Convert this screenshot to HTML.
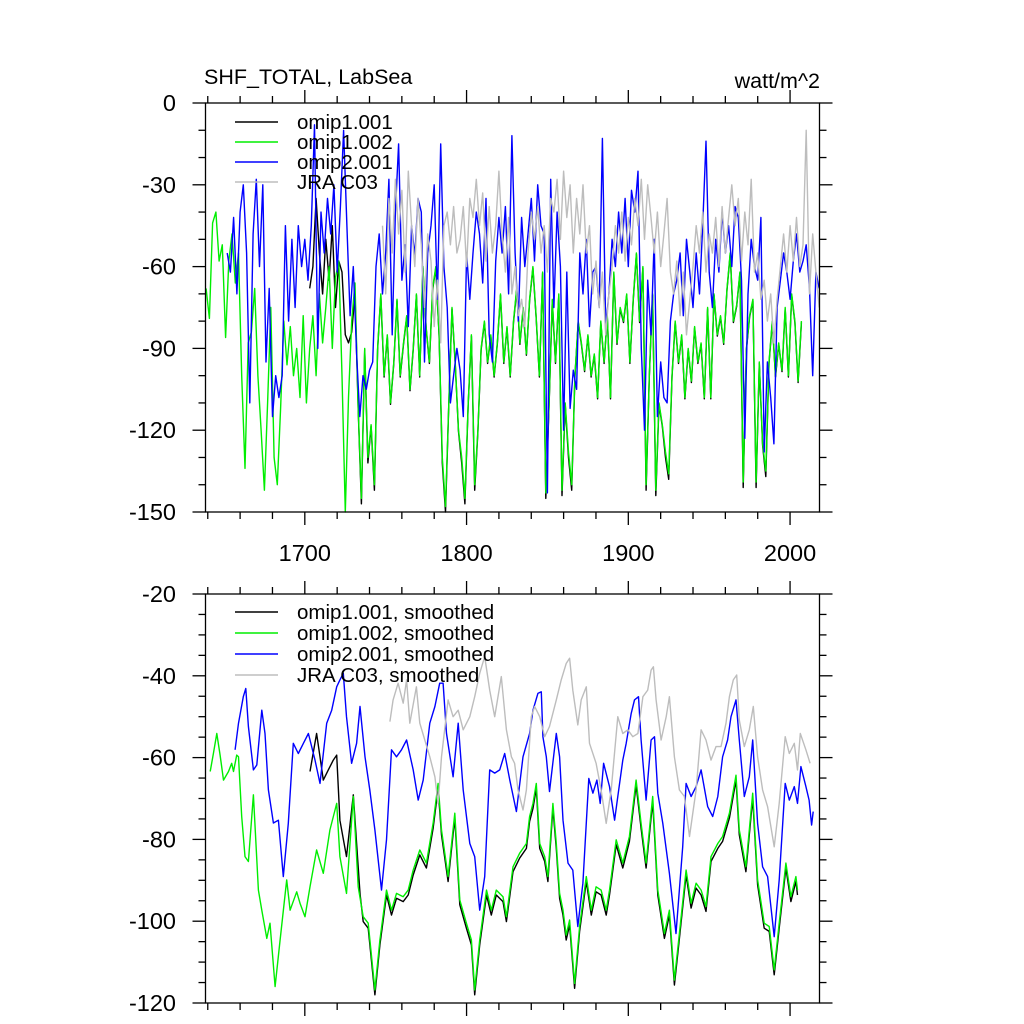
<!DOCTYPE html>
<html><head><meta charset="utf-8"><style>
html,body{margin:0;padding:0;background:#fff}
svg{display:block}
text{font-family:"Liberation Sans",sans-serif;fill:#000}
</style></head><body>
<svg id="chart" width="1024" height="1024" viewBox="0 0 1024 1024" xmlns="http://www.w3.org/2000/svg">
<text x="204" y="84" font-size="21.5">SHF_TOTAL, LabSea</text>
<text x="820" y="88" font-size="21.5" text-anchor="end">watt/m^2</text>
</svg>
<script>
// ---- top panel data (annual means, 2-yr sampling) ----
const greenStart = 1639;
const greenVals = [-68,-79,-44,-40,-58,-52,-86,-58,-48,-66,-55,-100,-134,-88,-84,-68,-100,-120,-142,-110,-75,-130,-140,-112,-80,-96,-82,-100,-90,-108,-78,-110,-90,-78,-100,-70,-88,-75,-60,-90,-64,-58,-100,-150,-108,-80,-66,-112,-145,-90,-130,-118,-140,-90,-70,-100,-85,-110,-95,-72,-100,-88,-78,-105,-90,-70,-100,-60,-82,-95,-68,-60,-85,-130,-148,-110,-75,-95,-120,-130,-145,-110,-85,-140,-120,-90,-80,-95,-85,-100,-88,-70,-95,-82,-100,-80,-68,-88,-75,-92,-72,-60,-78,-100,-62,-143,-110,-72,-95,-70,-142,-110,-128,-140,-100,-80,-88,-98,-85,-100,-92,-108,-80,-95,-78,-108,-62,-88,-75,-80,-70,-95,-72,-55,-80,-60,-140,-100,-70,-142,-110,-118,-128,-136,-100,-80,-95,-85,-108,-90,-102,-82,-95,-88,-108,-75,-108,-70,-85,-78,-88,-68,-55,-80,-74,-62,-139,-90,-78,-72,-139,-95,-125,-135,-95,-80,-100,-88,-98,-75,-100,-70,-80,-102,-80];
const blackStart = 1703;
const blackEarlyVals = [-68,-60,-35,-55,-70,-50,-65,-45,-75,-58,-62,-85,-88,-84,-70];
const blueStart = 1652;
const blueVals = [-55,-62,-42,-70,-40,-30,-55,-110,-48,-28,-60,-30,-95,-68,-115,-100,-108,-100,-45,-80,-50,-75,-45,-60,-50,-65,-45,-8,-90,-40,-55,-35,-48,-30,-62,-38,-10,-45,-78,-60,-92,-115,-100,-105,-98,-95,-60,-48,-70,-55,-28,-85,-40,-15,-65,-52,-82,-45,-56,-35,-40,-95,-55,-45,-30,-72,-15,-60,-75,-110,-100,-90,-98,-115,-55,-72,-55,-40,-48,-66,-35,-85,-95,-58,-42,-55,-38,-70,-12,-55,-80,-42,-60,-48,-35,-58,-30,-45,-48,-143,-28,-75,-40,-60,-120,-62,-112,-98,-105,-55,-70,-50,-82,-62,-60,-75,-13,-82,-70,-50,-60,-40,-55,-35,-60,-32,-40,-25,-90,-120,-65,-85,-50,-115,-95,-108,-110,-80,-70,-65,-55,-78,-50,-62,-75,-55,-70,-45,-14,-62,-75,-50,-62,-40,-55,-45,-60,-38,-42,-65,-123,-70,-50,-60,-65,-42,-128,-95,-108,-125,-75,-65,-55,-62,-72,-58,-48,-62,-58,-52,-68,-100,-62,-68];
const grayStart = 1748;
const grayVals = [-45,-70,-35,-55,-28,-48,-32,-62,-25,-45,-60,-35,-52,-75,-48,-58,-82,-65,-88,-45,-40,-52,-38,-55,-50,-38,-60,-35,-42,-28,-45,-33,-58,-38,-55,-45,-25,-48,-62,-42,-70,-60,-78,-72,-82,-55,-40,-50,-38,-55,-45,-62,-35,-40,-28,-50,-25,-42,-30,-55,-35,-48,-30,-55,-45,-70,-58,-75,-62,-85,-70,-60,-45,-55,-40,-58,-42,-52,-35,-45,-28,-50,-30,-42,-55,-40,-60,-48,-35,-62,-70,-58,-78,-62,-85,-72,-60,-45,-55,-40,-62,-48,-55,-42,-60,-38,-55,-42,-30,-45,-35,-58,-40,-52,-28,-62,-55,-72,-65,-80,-70,-88,-72,-60,-48,-62,-45,-58,-42,-60,-52,-10,-70,-48,-62,-75];
const yearStep = 2;

// ---- bottom panel data (smoothed) ----
const gsYears = [1641.5,1643.5,1645.6,1647.6,1649.7,1652.8,1654.8,1655.9,1657.9,1659,1661,1663,1665.1,1668.2,1671.3,1673.4,1676.5,1678.5,1681.6,1684.7,1688.8,1690.9,1695,1697,1700.1,1703.2,1707.3,1711.4,1715.5,1719.7,1721.7,1725.8,1730,1733,1736.1,1739.2,1743.3,1746.4,1750.5,1753.6,1756.7,1760.8,1763.9,1767,1771.1,1775.2,1779.3,1782.4,1784.5,1788.6,1792.7,1795.8,1799.9,1803,1805,1808.1,1812.3,1815.3,1818.4,1822.5,1824.6,1828.7,1832.8,1837,1839,1841.1,1843.1,1845.2,1848.3,1850.3,1853.4,1855.5,1857.5,1859.6,1861.6,1863.7,1866.8,1869.9,1874,1877.1,1880.1,1883.2,1886.3,1888.4,1892.5,1896.6,1900.7,1904.8,1907.9,1911,1915.1,1918.2,1922.3,1925.4,1928.5,1931.6,1935.7,1938.8,1941.9,1945,1948,1951.1,1955.3,1958.3,1962.5,1966.6,1968.6,1972.7,1976.9,1979.9,1984,1987.1,1990.2,1993.3,1997.4,2000.5,2003.6,2004.6];
const gsVals = [-63.4,-59,-54.1,-59.4,-65.5,-63.4,-61.4,-63.4,-59.4,-59.8,-74.4,-84.2,-85.4,-69.1,-92.4,-97.3,-104.2,-100.5,-116,-104.6,-89.9,-97.3,-92.8,-95.6,-98.9,-91.6,-82.6,-88.3,-77.7,-71.2,-84.2,-93.2,-69.5,-91.6,-98.9,-100.5,-116.8,-104.6,-92.4,-97.3,-93.2,-94,-92.4,-87.5,-82.6,-85.8,-76.1,-66.3,-77.7,-89.1,-73.6,-94.8,-100.5,-104.6,-116.8,-104.6,-92.4,-97.3,-92.4,-94,-98.9,-86.7,-83.4,-81,-74.4,-71.2,-66.3,-81,-84.2,-89.1,-71.2,-81,-93.2,-97.3,-103.4,-99.7,-115.2,-101.3,-89.1,-97.3,-91.6,-92.4,-97.3,-92.4,-80.1,-85.8,-79.3,-65.5,-76.1,-85.8,-69.5,-92.4,-103,-97.3,-114.4,-103,-87.5,-95.6,-90.7,-92.4,-96.4,-84.2,-81,-79.3,-73.6,-64.3,-77.7,-86.7,-68.7,-89.9,-100.5,-101.3,-111.9,-100.5,-85.8,-94,-89.1,-92.4];
const ksYears = [1703.2,1707.3,1709.4,1711.4,1714.5,1717.6,1719.7,1721.7,1725.8,1730,1734.1];
const ksVals = [-63.4,-54.1,-59.8,-65.5,-63,-60.6,-59.4,-75.3,-84.2,-69.1,-93.2];
const bsYears = [1656.9,1659,1662,1663.5,1665.1,1668.2,1670.3,1673.4,1675.4,1677.5,1680.6,1683.7,1686.7,1689.8,1692.9,1696,1699.1,1702.2,1706.3,1709.4,1713.5,1716.6,1719.7,1721.7,1723.8,1725.8,1728.9,1732,1734.1,1737.2,1740.2,1743.3,1747.4,1750.5,1753.6,1756.7,1759.8,1762.9,1767,1770.1,1773.2,1777.3,1780.4,1783.4,1785.5,1787.6,1791.7,1794.8,1797.9,1802,1805,1808.1,1811.2,1814.3,1817.4,1820.5,1823.6,1826.7,1830.8,1834.9,1839,1841.1,1844.1,1846.2,1847.2,1849.3,1851.3,1855.5,1857.5,1859.6,1862.7,1865.7,1868.8,1871.9,1875.6,1878.1,1880.6,1882.6,1884.7,1888.4,1891.5,1893.5,1896.6,1898.7,1901.8,1903.8,1906.3,1907.9,1911,1914.1,1916.2,1918.2,1921.3,1925.4,1929.5,1933.6,1935.7,1938.8,1941.9,1945,1949.1,1952.2,1955.3,1958.3,1961.4,1963.5,1966.6,1968.6,1971.7,1974.8,1976.9,1979.9,1983,1986.1,1990.2,1993.3,1997,1999.5,2002.6,2004.6,2006.7,2009.8,2011.8,2013.3,2014.3];
const bsVals = [-58.1,-51.6,-45.1,-43.1,-52.4,-63,-61.8,-48.4,-54.1,-67.9,-76,-75.3,-89.1,-76.1,-56.5,-59,-56.5,-54.1,-60.6,-66.3,-51.6,-48.4,-42.7,-41,-39.4,-50,-61.4,-56.5,-47.5,-59.8,-67.9,-77.7,-92.4,-80.1,-58.1,-59.8,-58.1,-55.7,-63,-70.4,-65.5,-51.6,-47.5,-41.8,-41.8,-54.1,-64.7,-51.6,-67.9,-81,-84.2,-97.3,-89.1,-63,-63.8,-63,-59,-65.5,-73.2,-59.8,-54.1,-48.4,-44.3,-43.9,-54.9,-59.8,-68.3,-54.1,-59.8,-75.3,-85.8,-87.5,-101.3,-90.7,-65.1,-68.7,-65.5,-71.2,-61.4,-67.1,-75.3,-69.5,-60.6,-56.5,-49.2,-45.9,-45.1,-55.7,-70.4,-55.7,-54.9,-68.7,-76.1,-88.3,-103,-81.8,-66.3,-69.5,-67.1,-63,-72,-74.4,-69.5,-59.8,-55.7,-50,-45.9,-55.7,-69.5,-64.7,-55.7,-76.1,-86.7,-89.1,-103.8,-89.9,-66.3,-70.4,-67.1,-71.2,-62.2,-67.1,-70.4,-76.5,-73.2];
const jsYears = [1752.6,1754.6,1757.7,1760.8,1762.9,1764.9,1769,1771.1,1774.2,1777.3,1780.4,1782.4,1784.5,1788.6,1791.7,1794.8,1797.9,1802,1805,1808.1,1811.2,1814.3,1817.4,1821.5,1824.6,1827.7,1829.7,1831.8,1834.9,1837,1840,1842.1,1845.2,1848.3,1851.3,1855.5,1858.5,1861.6,1863.7,1865.7,1868.8,1870.9,1874,1876,1880.1,1883.2,1886.3,1889.4,1893.5,1896.6,1899.7,1902.8,1905.9,1909,1912,1914.1,1915.5,1917.2,1920.3,1923.4,1925.4,1928.5,1931.6,1934.7,1937.8,1941.9,1945,1948,1951.1,1954.2,1957.3,1960.4,1962.5,1964.9,1967,1968.6,1971.7,1974.8,1977.3,1979.9,1983,1986.1,1990.2,1993.3,1997,1999.5,2002.6,2004.6,2006.3,2009.8,2012.4];
const jsVals = [-51.2,-45.9,-41.8,-46.7,-41,-51.6,-42.7,-51.6,-55.7,-59.8,-64.7,-71.2,-59.8,-45.9,-50,-48.4,-53.2,-50,-45.1,-39.4,-35.3,-43.5,-50,-40.2,-53.2,-59.8,-61.4,-67.9,-72.8,-67.9,-50,-47.5,-50,-54.9,-52.4,-45.9,-41,-37,-35.7,-43.5,-52,-45.9,-42.7,-56.5,-61.4,-67.9,-76.1,-67.9,-50,-54.1,-53.2,-54.9,-54.1,-45.1,-43.5,-38.6,-37.8,-45.9,-55.7,-50,-45.1,-59.8,-67.9,-69.5,-79.3,-67.9,-53.2,-55.7,-60.6,-57.3,-57.3,-51.6,-45.1,-41,-39.8,-50.8,-57.3,-53.2,-47.5,-59.8,-67.9,-72,-81.8,-71.2,-54.9,-59,-56.5,-63,-54.1,-58.1,-61.4];

const topTicks = [0,-30,-60,-90,-120,-150];
const botTicks = [-20,-40,-60,-80,-100,-120];
const xTicks = [1700,1800,1900,2000];

const NS = "http://www.w3.org/2000/svg";
const svg = document.getElementById('chart');
const X0 = 205.5, X1 = 819.5, XMIN = 1638.6, XMAX = 2018.2;
function xs(y){ return X0 + (y - XMIN) / (XMAX - XMIN) * (X1 - X0); }
function mk(tag, attrs, parent){ const e = document.createElementNS(NS, tag); for (const k in attrs) e.setAttribute(k, attrs[k]); (parent||svg).appendChild(e); return e; }

function panel(name, top, bot, vmax, vmin, ticks, minorStep, showXLabels){
  const g = mk('g', {});
  
  
  const ys = v => top + (vmax - v) / (vmax - vmin) * (bot - top);
  return {g, ys, top, bot, vmax, vmin, ticks, minorStep, showXLabels};
}
function drawAxes(p){
  const ax = mk('g', {stroke:'#000','stroke-width':1.3, fill:'none'}, p.g);
  
  
  mk('rect', {x:X0, y:p.top, width:X1-X0, height:p.bot-p.top}, ax);
  for (let v = p.vmax; v >= p.vmin - 0.001; v -= p.minorStep){
    const isMaj = p.ticks.some(t => Math.abs(t - v) < 0.001);
    const y = p.ys(v), L = isMaj ? 13 : 7;
    mk('line', {x1:X0, x2:X0-L, y1:y, y2:y}, ax);
    mk('line', {x1:X1, x2:X1+L, y1:y, y2:y}, ax);
  }
  for (let yr = 1640; yr <= 2018; yr += 20){
    const isMaj = yr % 100 === 0;
    const x = xs(yr), L = isMaj ? 13 : 7;
    mk('line', {x1:x, x2:x, y1:p.top, y2:p.top-L}, ax);
    mk('line', {x1:x, x2:x, y1:p.bot, y2:p.bot+L}, ax);
  }
  p.ticks.forEach(t => {
    const tx = mk('text', {x:176, y:p.ys(t)+8, 'font-size':23.5, 'text-anchor':'end'}, p.g);
    
    
    tx.textContent = t;
  });
  if (p.showXLabels){
    xTicks.forEach(t => {
      const tx = mk('text', {x:xs(t), y:p.bot+49, 'font-size':23.5, 'text-anchor':'middle'}, p.g);
      
      
      tx.textContent = t;
    });
  }
}
function line(p, years, vals, color, name){
  let d = '';
  for (let i = 0; i < vals.length; i++){
    d += (i ? 'L' : 'M') + xs(years[i]).toFixed(1) + ' ' + p.ys(vals[i]).toFixed(1);
  }
  const pa = mk('path', {d, stroke:color, 'stroke-width':1.4, fill:'none', 'stroke-linejoin':'round'}, p.g);
  
  
}
function seq(start, n){ const a = []; for (let i = 0; i < n; i++) a.push(start + i*yearStep); return a; }
function legend(p, labels, colors, y0, dy){
  const lg = mk('g', {}, p.g);
  
  
  labels.forEach((lab, i) => {
    const y = y0 + i*dy;
    const ln = mk('line', {x1:235, x2:278, y1:y, y2:y, stroke:colors[i], 'stroke-width':1.4}, lg);
    
    
    const t = mk('text', {x:297, y:y+7, 'font-size':20.5}, lg);
    
    
    t.textContent = lab;
  });
}

// top panel
const pt = panel('top-panel', 103, 512, 0, -150, topTicks, 10, true);
const blackTopYears = seq(blackStart, blackEarlyVals.length).concat(seq(greenStart, greenVals.length).filter(y => y >= blackStart + blackEarlyVals.length*yearStep));
const blackTopVals = blackEarlyVals.concat(greenVals.filter((v,i) => greenStart + i*yearStep >= blackStart + blackEarlyVals.length*yearStep).map(v => v < -125 ? v - 2 : v - 0.5));
line(pt, blackTopYears, blackTopVals, '#000', 'series-omip1-001');
line(pt, seq(greenStart, greenVals.length), greenVals, '#00ee00', 'series-omip1-002');
line(pt, seq(blueStart, blueVals.length), blueVals, '#0000ff', 'series-omip2-001');
line(pt, seq(grayStart, grayVals.length), grayVals, '#bdbdbd', 'series-jra-c03');
drawAxes(pt);
legend(pt, ['omip1.001','omip1.002','omip2.001','JRA C03'], ['#000','#00ee00','#0000ff','#bdbdbd'], 122, 20);

// bottom panel
const pb = panel('bottom-panel', 594, 1003, -20, -120, botTicks, 5, false);
const lastK = ksYears[ksYears.length-1];
const kYears = ksYears.concat(gsYears.filter(y => y > lastK));
const kVals = ksVals.concat(gsVals.filter((v,i) => gsYears[i] > lastK).map(v => v - 1.2));
line(pb, kYears, kVals, '#000', 'series-omip1-001-smoothed');
line(pb, gsYears, gsVals, '#00ee00', 'series-omip1-002-smoothed');
line(pb, bsYears, bsVals, '#0000ff', 'series-omip2-001-smoothed');
line(pb, jsYears, jsVals, '#bdbdbd', 'series-jra-c03-smoothed');
drawAxes(pb);
legend(pb, ['omip1.001, smoothed','omip1.002, smoothed','omip2.001, smoothed','JRA C03, smoothed'], ['#000','#00ee00','#0000ff','#bdbdbd'], 612, 21);
</script>
</body></html>
